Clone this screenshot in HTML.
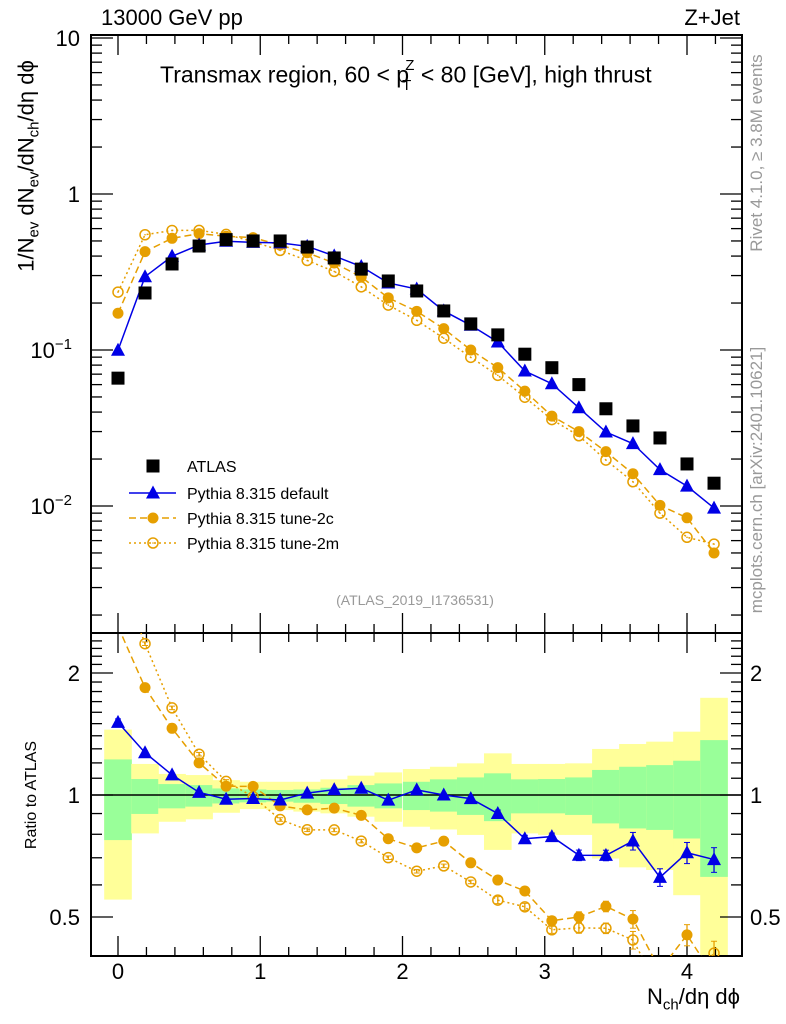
<!DOCTYPE html>
<html><head><meta charset="utf-8"><style>
body{margin:0;background:#fff;}
svg{display:block;font-family:"Liberation Sans",sans-serif;}
</style></head><body>
<svg id="c" width="786" height="1024" viewBox="0 0 786 1024"></svg>
<script>
const xvals=[0,0.19,0.38,0.57,0.76,0.95,1.14,1.33,1.52,1.71,1.90,2.10,2.29,2.48,2.67,2.86,3.05,3.24,3.43,3.62,3.81,4.00,4.19];
const atlas=[0.066,0.232,0.356,0.464,0.51,0.50,0.50,0.457,0.389,0.33,0.277,0.239,0.178,0.147,0.125,0.094,0.077,0.060,0.042,0.0326,0.0273,0.0186,0.014];
const pyDefault=[0.0997,0.295,0.399,0.471,0.498,0.49,0.486,0.462,0.401,0.343,0.269,0.246,0.178,0.144,0.1125,0.0733,0.0608,0.0426,0.0298,0.0251,0.0171,0.0134,0.0097];
const pyTune2c=[0.172,0.427,0.52,0.557,0.536,0.525,0.47,0.42,0.361,0.294,0.216,0.177,0.137,0.100,0.0771,0.0545,0.0377,0.030,0.0223,0.0161,0.0101,0.0084,0.0050];
const pyTune2m=[0.235,0.548,0.584,0.585,0.551,0.495,0.435,0.375,0.319,0.254,0.194,0.155,0.119,0.0897,0.0688,0.0498,0.0358,0.0282,0.0197,0.0143,0.0090,0.0063,0.0057];
const ratioErr=[0.02,0.01,0.01,0.01,0.01,0.01,0.01,0.01,0.01,0.01,0.01,0.01,0.01,0.01,0.02,0.02,0.02,0.03,0.03,0.05,0.05,0.06,0.07];
const bandYellowHi=[1.45,1.193,1.127,1.12,1.088,1.078,1.078,1.078,1.093,1.116,1.137,1.159,1.174,1.197,1.267,1.193,1.193,1.197,1.299,1.336,1.354,1.433,1.737];
const bandGreenHi=[1.224,1.095,1.064,1.058,1.038,1.032,1.029,1.032,1.042,1.058,1.068,1.078,1.093,1.105,1.131,1.093,1.095,1.105,1.153,1.174,1.185,1.215,1.366];
const bandGreenLo=[0.774,0.898,0.927,0.936,0.953,0.959,0.963,0.957,0.950,0.936,0.927,0.918,0.910,0.893,0.862,0.901,0.901,0.893,0.851,0.827,0.820,0.781,0.628];
const bandYellowLo=[0.552,0.804,0.859,0.871,0.904,0.923,0.918,0.910,0.901,0.884,0.859,0.835,0.822,0.797,0.732,0.804,0.797,0.797,0.697,0.663,0.653,0.566,0.30];
const xTicks=[0,1,2,3,4];
const ratioTicks=[2,1,0.5];

const NS='http://www.w3.org/2000/svg';
const svg=document.getElementById('c');
function el(t,a,p){const e=document.createElementNS(NS,t);for(const k in a)e.setAttribute(k,a[k]);(p||svg).appendChild(e);return e;}
const L=91,R=742,T=35,MB=633,RB=956;
const X=v=>118+v*142.25;
const Y=v=>194-156*Math.log10(v);
const YR=v=>795-122*Math.log2(v);
const BW=0.19*142.25;

const gb=el('g',{});


xvals.forEach((x,i)=>{
  const x0=X(x)-BW/2-0.3;
  const clampY=v=>Math.max(T,Math.min(RB,v));
  const y1=el('rect',{x:x0,y:clampY(YR(bandYellowHi[i])),width:BW+0.6,height:clampY(YR(bandYellowLo[i]))-clampY(YR(bandYellowHi[i])),fill:'#ffff99'},gb);
  
  
  const g1=el('rect',{x:x0,y:YR(bandGreenHi[i]),width:BW+0.6,height:YR(bandGreenLo[i])-YR(bandGreenHi[i]),fill:'#99ff99'},gb);
  
  
});
el('line',{x1:L,x2:R,y1:YR(1),y2:YR(1),stroke:'#000','stroke-width':1.5});

for(const [t,b] of [[T,MB],[MB,RB]]){
  const f=el('rect',{x:L,y:t,width:R-L,height:b-t,fill:'none',stroke:'#000','stroke-width':2});
  
  
}
for(let v=-0.2;v<=4.4;v+=0.2){
  const x=X(v); if(x<L+1||x>R-1)continue;
  const maj=Math.abs(v-Math.round(v))<1e-6;
  const len=maj?20:9;
  for(const [t,b] of [[T,MB],[MB,RB]]){
    el('line',{x1:x,x2:x,y1:t,y2:t+len,stroke:'#000','stroke-width':1.3});
    el('line',{x1:x,x2:x,y1:b,y2:b-len,stroke:'#000','stroke-width':1.3});
  }
}
xTicks.forEach(v=>{const t=el('text',{x:X(v),y:979,'font-size':22,'text-anchor':'middle'});t.textContent=v;
  });
for(let d=-3;d<=1;d++){for(let m=1;m<10;m++){const v=m*Math.pow(10,d);const y=Y(v);if(y<T||y>MB)continue;
  const len=m==1?22:11;
  el('line',{x1:L,x2:L+len,y1:y,y2:y,stroke:'#000','stroke-width':1.3});
  el('line',{x1:R,x2:R-len,y1:y,y2:y,stroke:'#000','stroke-width':1.3});}}
const ylabs=[[10,'10',''],[1,'1',''],[0.1,'10','−1'],[0.01,'10','−2']];
ylabs.forEach(([v,b,s])=>{const t=el('text',{x:s?72:80,y:Y(v)+8,'font-size':22,'text-anchor':'end'});
  t.textContent=b; if(s){const ts=el('tspan',{dy:-9,'font-size':15},t);ts.textContent=s;}
  });
for(let v=0.4;v<=2.5;v+=0.1){const y=YR(v);if(y<MB+1||y>RB-1)continue;
  const maj=[0.5,1,2].some(q=>Math.abs(q-v)<1e-6);const len=maj?22:11;
  el('line',{x1:L,x2:L+len,y1:y,y2:y,stroke:'#000','stroke-width':1.3});
  el('line',{x1:R,x2:R-len,y1:y,y2:y,stroke:'#000','stroke-width':1.3});}
ratioTicks.forEach(v=>{
  const t=el('text',{x:80,y:YR(v)+8,'font-size':22,'text-anchor':'end'});t.textContent=v;
  
  const t2=el('text',{x:750,y:YR(v)+8,'font-size':22});t2.textContent=v;
  });

function marker(type,x,y,c,g){
  if(type=='sq')return el('rect',{x:x-6.5,y:y-6.5,width:13,height:13,fill:'#000'},g);
  if(type=='tri')return el('polygon',{points:`${x},${y-7.5} ${x-7},${y+5.5} ${x+7},${y+5.5}`,fill:c},g);
  if(type=='dot')return el('circle',{cx:x,cy:y,r:5.5,fill:c},g);
  if(type=='ring'){const r=el('circle',{cx:x,cy:y,r:5,fill:'none',stroke:c,'stroke-width':1.5},g);el('circle',{cx:x,cy:y,r:0.8,fill:c},g);return r;}
}
function series(name,vals,type,color,dash,yf,clip,withErr){
  const g=el('g',{'clip-path':clip});
  
  
  const pts=vals.map((v,i)=>[X(xvals[i]),yf(v)]);
  if(color!='#000')el('polyline',{points:pts.map(p=>p.join(',')).join(' '),fill:'none',stroke:color,'stroke-width':1.5,'stroke-dasharray':dash},g);
  pts.forEach((p,i)=>{
    if(withErr){const e=ratioErr[i]*vals[i];el('line',{x1:p[0],x2:p[0],y1:yf(vals[i]+e),y2:yf(vals[i]-e),stroke:color,'stroke-width':1.3},g);
      el('line',{x1:p[0]-3,x2:p[0]+3,y1:yf(vals[i]+e),y2:yf(vals[i]+e),stroke:color},g);
      el('line',{x1:p[0]-3,x2:p[0]+3,y1:yf(vals[i]-e),y2:yf(vals[i]-e),stroke:color},g);}
    const m=marker(type,p[0],p[1],color,g);
    
    
  });
}
const defs=el('defs',{});
const c1=el('clipPath',{id:'cm'},defs);el('rect',{x:L,y:T,width:R-L,height:MB-T},c1);
const c2=el('clipPath',{id:'cr'},defs);el('rect',{x:L,y:MB,width:R-L,height:RB-MB},c2);
series('series-tune-2m',pyTune2m,'ring','#e69f00','2,3',Y,'url(#cm)');
series('series-tune-2c',pyTune2c,'dot','#e69f00','7,4',Y,'url(#cm)');
series('series-default',pyDefault,'tri','#0000e6','',Y,'url(#cm)');
series('series-atlas',atlas,'sq','#000','',Y,'url(#cm)');
series('ratio-tune-2m',pyTune2m.map((v,i)=>v/atlas[i]),'ring','#e69f00','2,3',YR,'url(#cr)',true);
series('ratio-tune-2c',pyTune2c.map((v,i)=>v/atlas[i]),'dot','#e69f00','7,4',YR,'url(#cr)',true);
series('ratio-default',pyDefault.map((v,i)=>v/atlas[i]),'tri','#0000e6','',YR,'url(#cr)',true);

const lg=el('g',{});


[['ATLAS','sq','#000','',466],['Pythia 8.315 default','tri','#0000e6','',493],['Pythia 8.315 tune-2c','dot','#e69f00','7,4',518],['Pythia 8.315 tune-2m','ring','#e69f00','2,3',543]].forEach(([n,t,c,d,y])=>{
  const g=el('g',{},lg);
  
  
  if(c!='#000')el('line',{x1:129,x2:176,y1:y,y2:y,stroke:c,'stroke-width':1.5,'stroke-dasharray':d},g);
  marker(t,153,y,c,g);
  const tx=el('text',{x:187,y:y+6,'font-size':16},g);tx.textContent=n;
});
</script>
<div style="position:absolute;left:0;top:0;width:786px;height:1024px;font-family:'Liberation Sans',sans-serif;pointer-events:none;">
<div style="position:absolute;left:101px;top:5px;font-size:22px;">13000 GeV pp</div>
<div style="position:absolute;right:46px;top:5px;font-size:22px;">Z+Jet</div>
<div style="position:absolute;left:160px;top:61px;font-size:23px;white-space:nowrap;">Transmax region, 60 &lt; p<sub style="font-size:15px;position:relative;top:2px;margin-left:-7px">T</sub><sup style="font-size:15px;position:relative;top:-4px;margin-left:-6px">Z</sup> &lt; 80 [GeV], high thrust</div>
<div style="position:absolute;left:28px;top:166px;transform:translate(-50%,-50%) rotate(-90deg);font-size:22px;white-space:nowrap;">1/N<sub style="font-size:15px">ev</sub> dN<sub style="font-size:15px">ev</sub>/dN<sub style="font-size:15px">ch</sub>/dη dϕ</div>
<div style="position:absolute;left:32px;top:795px;transform:translate(-50%,-50%) rotate(-90deg);font-size:16px;white-space:nowrap;">Ratio to ATLAS</div>
<div style="position:absolute;right:46px;top:984px;font-size:22px;white-space:nowrap;">N<sub style="font-size:15px">ch</sub>/dη dϕ</div>
<div style="position:absolute;left:415px;top:600px;transform:translate(-50%,-50%);font-size:14px;color:#999;white-space:nowrap;">(ATLAS_2019_I1736531)</div>
<div style="position:absolute;left:757px;top:153px;transform:translate(-50%,-50%) rotate(-90deg);font-size:17px;color:#999;white-space:nowrap;">Rivet 4.1.0, ≥ 3.8M events</div>
<div style="position:absolute;left:757px;top:480px;transform:translate(-50%,-50%) rotate(-90deg);font-size:17px;color:#999;white-space:nowrap;">mcplots.cern.ch [arXiv:2401.10621]</div>
</div>
</body></html>
